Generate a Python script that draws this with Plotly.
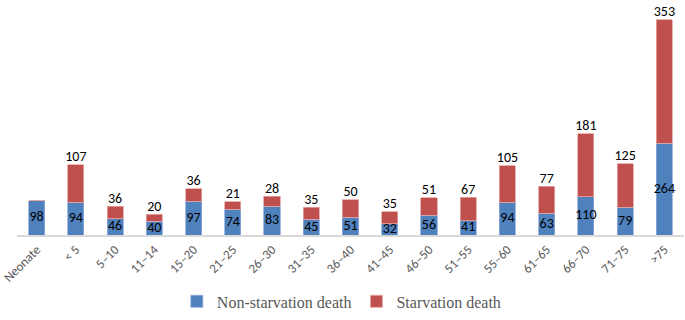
import plotly.graph_objects as go

categories = ["Neonate", "< 5", "5–10", "11–14", "15–20", "21–25", "26–30", "31–35", "36–40",
              "41–45", "46–50", "51–55", "55–60", "61–65", "66–70", "71–75", ">75"]
non_starvation = [98, 94, 46, 40, 97, 74, 83, 45, 51, 32, 56, 41, 94, 63, 110, 79, 264]
starvation = [0, 107, 36, 20, 36, 21, 28, 35, 50, 35, 51, 67, 105, 77, 181, 125, 353]

BLUE = "#4F81BD"
RED = "#C0504D"
LABEL_FONT = dict(family="Carlito, Lato, sans-serif", size=14, color="#000000")

totals = [a + b for a, b in zip(non_starvation, starvation)]
blue_mid = [v / 2 for v in non_starvation]
red_labels = [str(v) if v > 0 else "" for v in starvation]

fig = go.Figure()
fig.add_trace(go.Bar(
    x=categories, y=non_starvation, name="Non-starvation death",
    marker=dict(color=BLUE, line=dict(color="#8EAADB", width=0.8)),
    hoverinfo="skip",
))
fig.add_trace(go.Bar(
    x=categories, y=starvation, name="Starvation death",
    marker=dict(color=RED, line=dict(color="#E6A5A3", width=0.8)),
    hoverinfo="skip",
))
fig.add_trace(go.Scatter(
    x=categories, y=blue_mid, mode="text", text=[str(v) for v in non_starvation],
    textposition="middle center", textfont=LABEL_FONT,
    showlegend=False, cliponaxis=False, hoverinfo="skip",
))
fig.add_trace(go.Scatter(
    x=categories, y=totals, mode="text", text=red_labels,
    textposition="top center", textfont=LABEL_FONT,
    showlegend=False, cliponaxis=False, hoverinfo="skip",
))

fig.update_layout(
    width=685, height=320,
    margin=dict(l=17, r=1, t=5, b=85, autoexpand=False),
    barmode="stack", bargap=0.59,
    plot_bgcolor="white", paper_bgcolor="white",
    showlegend=True,
    legend=dict(orientation="h", x=0.487, xanchor="center",
                yref="container", y=0.005, yanchor="bottom",
                font=dict(family="Liberation Serif, serif", size=16, color="#595959"),
                itemwidth=30, traceorder="normal"),
    xaxis=dict(range=[-0.5, len(categories) - 0.5],
               tickangle=-45, tickfont=dict(family="Carlito, Lato, sans-serif", size=13, color="#595959"),
               showline=True, linecolor="#D9D9D9", linewidth=2, ticks="", showgrid=False,
               automargin=False),
    yaxis=dict(range=[0, 660], visible=False, showgrid=False, automargin=False),
)

fig.write_html(
    "out.html",
    config={"displayModeBar": False},
    post_script="document.body.style.margin='0';document.body.style.overflow='hidden';",
)
